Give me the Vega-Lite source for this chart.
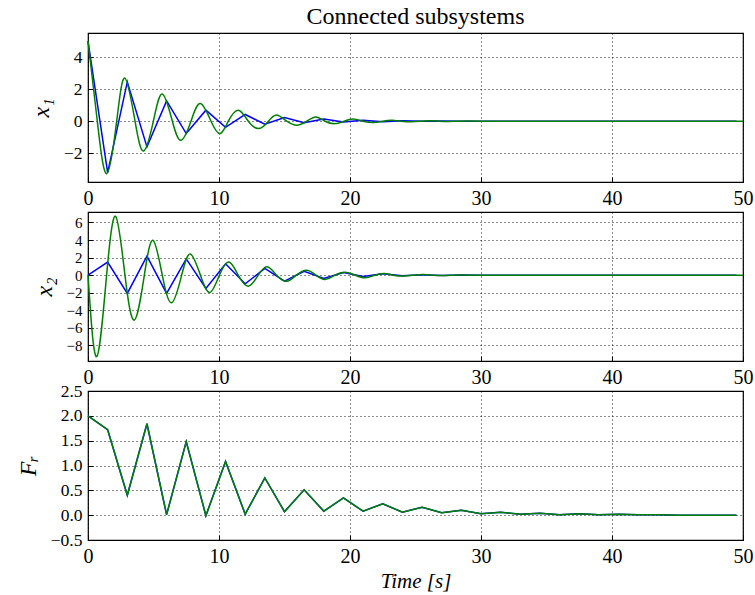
{
  "$schema": "https://vega.github.io/schema/vega-lite/v6.json",
  "background": "white",
  "padding": {"left": 15, "top": 4, "right": 2, "bottom": 2},
  "bounds": "flush",
  "spacing": 30,
  "config": {
    "view": {"stroke": "black", "strokeWidth": 1.2},
    "font": "Liberation Serif",
    "axis": {
      "labelFont": "Liberation Serif",
      "labelFontSize": 20,
      "labelColor": "black",
      "labelOverlap": false,
      "labelFlush": false,
      "titleFont": "Liberation Serif",
      "titleColor": "black",
      "titleFontWeight": "normal",
      "titleFontStyle": "italic",
      "grid": true,
      "gridColor": "black",
      "gridDash": [1, 3],
      "gridWidth": 1,
      "gridOpacity": 0.9,
      "domain": false,
      "tickColor": "black",
      "tickSize": -5,
      "tickWidth": 1,
      "labelPadding": 11
    },
    "axisY": {"labelFontSize": 17.5}
  },
  "datasets": {
    "x1b": [
      {"t": 0, "v": 5.0}, {"t": 1.5, "v": -3.2}, {"t": 3, "v": 2.45}, {"t": 4.5, "v": -1.6},
      {"t": 6, "v": 1.27}, {"t": 7.5, "v": -0.77}, {"t": 9, "v": 0.69}, {"t": 10.5, "v": -0.38},
      {"t": 12, "v": 0.42}, {"t": 13.5, "v": -0.19}, {"t": 15, "v": 0.23}, {"t": 16.5, "v": -0.09},
      {"t": 18, "v": 0.13}, {"t": 19.5, "v": -0.05}, {"t": 21, "v": 0.06}, {"t": 22.5, "v": -0.03},
      {"t": 24, "v": 0.03}, {"t": 25.5, "v": -0.01}, {"t": 27, "v": 0.01}, {"t": 28.5, "v": 0},
      {"t": 30, "v": 0}, {"t": 49.5, "v": 0}
    ],
    "x1g": [
      {"t": 0, "v": 5.0}, {"t": 0.71, "v": 0}, {"t": 1.43, "v": -3.27}, {"t": 2.19, "v": 0},
      {"t": 2.82, "v": 2.69}, {"t": 3.59, "v": 0}, {"t": 4.25, "v": -1.86}, {"t": 4.99, "v": 0},
      {"t": 5.67, "v": 1.69}, {"t": 6.44, "v": 0}, {"t": 7.1, "v": -1.19}, {"t": 7.86, "v": 0},
      {"t": 8.57, "v": 1.1}, {"t": 9.39, "v": 0}, {"t": 10.08, "v": -0.77}, {"t": 10.71, "v": 0},
      {"t": 11.47, "v": 0.69}, {"t": 12.24, "v": 0}, {"t": 13.05, "v": -0.46}, {"t": 13.77, "v": 0},
      {"t": 14.4, "v": 0.39}, {"t": 15.17, "v": 0}, {"t": 15.98, "v": -0.25}, {"t": 16.7, "v": 0},
      {"t": 17.4, "v": 0.27}, {"t": 18.1, "v": 0}, {"t": 18.85, "v": -0.15}, {"t": 19.55, "v": 0},
      {"t": 20.25, "v": 0.14}, {"t": 21.0, "v": 0}, {"t": 21.8, "v": -0.08}, {"t": 22.5, "v": 0},
      {"t": 23.2, "v": 0.06}, {"t": 23.9, "v": 0}, {"t": 24.7, "v": -0.04}, {"t": 25.4, "v": 0},
      {"t": 26.1, "v": 0.03}, {"t": 26.8, "v": 0}, {"t": 27.5, "v": -0.02}, {"t": 28.2, "v": 0},
      {"t": 29, "v": 0.01}, {"t": 30, "v": 0}, {"t": 35, "v": 0}, {"t": 40, "v": 0},
      {"t": 45, "v": 0}, {"t": 50, "v": 0}
    ],
    "x2b": [
      {"t": 0, "v": 0}, {"t": 1.5, "v": 1.48}, {"t": 3, "v": -2.08}, {"t": 4.5, "v": 2.16},
      {"t": 6, "v": -2.08}, {"t": 7.5, "v": 1.86}, {"t": 9, "v": -1.52}, {"t": 10.5, "v": 1.29},
      {"t": 12, "v": -0.99}, {"t": 13.5, "v": 0.76}, {"t": 15, "v": -0.68}, {"t": 16.5, "v": 0.45},
      {"t": 18, "v": -0.38}, {"t": 19.5, "v": 0.3}, {"t": 21, "v": -0.15}, {"t": 22.5, "v": 0.15},
      {"t": 24, "v": -0.08}, {"t": 25.5, "v": 0.05}, {"t": 27, "v": -0.03}, {"t": 28.5, "v": 0.02},
      {"t": 30, "v": 0}, {"t": 49.5, "v": 0}
    ],
    "x2g": [
      {"t": 0, "v": 0}, {"t": 0.66, "v": -9.28}, {"t": 1.42, "v": 0}, {"t": 2.11, "v": 6.7},
      {"t": 2.82, "v": 0}, {"t": 3.54, "v": -5.11}, {"t": 4.3, "v": 0}, {"t": 4.96, "v": 3.98},
      {"t": 5.67, "v": 0}, {"t": 6.39, "v": -3.14}, {"t": 7.15, "v": 0}, {"t": 7.81, "v": 2.42},
      {"t": 8.58, "v": 0}, {"t": 9.31, "v": -1.97}, {"t": 10.03, "v": 0}, {"t": 10.76, "v": 1.51},
      {"t": 11.47, "v": 0}, {"t": 12.24, "v": -1.25}, {"t": 13.0, "v": 0}, {"t": 13.68, "v": 0.95},
      {"t": 14.4, "v": 0}, {"t": 15.17, "v": -0.68}, {"t": 15.9, "v": 0}, {"t": 16.69, "v": 0.57},
      {"t": 17.4, "v": 0}, {"t": 18.1, "v": -0.49}, {"t": 18.85, "v": 0}, {"t": 19.6, "v": 0.34},
      {"t": 20.4, "v": 0}, {"t": 21.15, "v": -0.3}, {"t": 21.9, "v": 0}, {"t": 22.6, "v": 0.19},
      {"t": 23.3, "v": 0}, {"t": 24.1, "v": -0.1}, {"t": 24.85, "v": 0}, {"t": 25.6, "v": 0.08},
      {"t": 26.3, "v": 0}, {"t": 27.1, "v": -0.05}, {"t": 27.8, "v": 0}, {"t": 28.6, "v": 0.03},
      {"t": 29.3, "v": 0}, {"t": 30, "v": 0}, {"t": 35, "v": 0}, {"t": 40, "v": 0},
      {"t": 45, "v": 0}, {"t": 50, "v": 0}
    ],
    "fr": [
      {"t": 0, "v": 2.0}, {"t": 1.5, "v": 1.72}, {"t": 3, "v": 0.4}, {"t": 4.5, "v": 1.84},
      {"t": 6, "v": 0.01}, {"t": 7.5, "v": 1.48}, {"t": 9, "v": -0.01}, {"t": 10.5, "v": 1.08},
      {"t": 12, "v": 0.02}, {"t": 13.5, "v": 0.75}, {"t": 15, "v": 0.07}, {"t": 16.5, "v": 0.51},
      {"t": 18, "v": 0.08}, {"t": 19.5, "v": 0.35}, {"t": 21, "v": 0.08}, {"t": 22.5, "v": 0.23},
      {"t": 24, "v": 0.06}, {"t": 25.5, "v": 0.16}, {"t": 27, "v": 0.05}, {"t": 28.5, "v": 0.1},
      {"t": 30, "v": 0.03}, {"t": 31.5, "v": 0.06}, {"t": 33, "v": 0.02}, {"t": 34.5, "v": 0.04},
      {"t": 36, "v": 0.01}, {"t": 37.5, "v": 0.03}, {"t": 39, "v": 0.01}, {"t": 40.5, "v": 0.02},
      {"t": 42, "v": 0.01}, {"t": 43.5, "v": 0.01}, {"t": 45, "v": 0}, {"t": 46.5, "v": 0},
      {"t": 48, "v": 0}, {"t": 49.5, "v": 0}
    ]
  },
  "vconcat": [
    {
      "width": 655,
      "height": 149,
      "title": {"text": "Connected subsystems", "fontSize": 24, "font": "Liberation Serif", "fontWeight": "normal", "color": "black", "offset": 4, "anchor": "middle"},
      "encoding": {
        "x": {"field": "t", "type": "quantitative", "scale": {"domain": [0, 50], "nice": false}, "axis": {"values": [0, 10, 20, 30, 40, 50], "title": null}},
        "y": {"field": "v", "type": "quantitative", "scale": {"domain": [-3.79, 5.5], "nice": false, "zero": false}, "axis": {"values": [-2, 0, 2, 4], "title": "x₁", "titleFontSize": 24, "titlePadding": 10}}
      },
      "layer": [
        {"data": {"name": "x1b"}, "mark": {"type": "line", "color": "#0000ff", "strokeWidth": 1.5}},
        {"data": {"name": "x1g"}, "mark": {"type": "line", "color": "#008000", "strokeWidth": 1.5, "interpolate": "natural"}}
      ]
    },
    {
      "width": 655,
      "height": 149,
      "encoding": {
        "x": {"field": "t", "type": "quantitative", "scale": {"domain": [0, 50], "nice": false}, "axis": {"values": [0, 10, 20, 30, 40, 50], "title": null}},
        "y": {"field": "v", "type": "quantitative", "scale": {"domain": [-9.77, 7.19], "nice": false, "zero": false}, "axis": {"values": [-8, -6, -4, -2, 0, 2, 4, 6], "labelFontSize": 15, "title": "x₂", "titleFontSize": 24, "titlePadding": 10}}
      },
      "layer": [
        {"data": {"name": "x2b"}, "mark": {"type": "line", "color": "#0000ff", "strokeWidth": 1.5}},
        {"data": {"name": "x2g"}, "mark": {"type": "line", "color": "#008000", "strokeWidth": 1.5, "interpolate": "natural"}}
      ]
    },
    {
      "width": 655,
      "height": 149,
      "encoding": {
        "x": {"field": "t", "type": "quantitative", "scale": {"domain": [0, 50], "nice": false}, "axis": {"values": [0, 10, 20, 30, 40, 50], "title": "Time [s]", "titleFontSize": 21, "titlePadding": 4}},
        "y": {"field": "v", "type": "quantitative", "scale": {"domain": [-0.5, 2.5], "nice": false, "zero": false}, "axis": {"values": [-0.5, 0, 0.5, 1, 1.5, 2, 2.5], "format": ".1f", "title": "Fᵣ", "titleFontSize": 24, "titlePadding": 10}}
      },
      "layer": [
        {"data": {"name": "fr"}, "mark": {"type": "line", "color": "#0000ff", "strokeWidth": 1.5}},
        {"data": {"name": "fr"}, "mark": {"type": "line", "color": "#008000", "strokeWidth": 1.5}}
      ]
    }
  ]
}
